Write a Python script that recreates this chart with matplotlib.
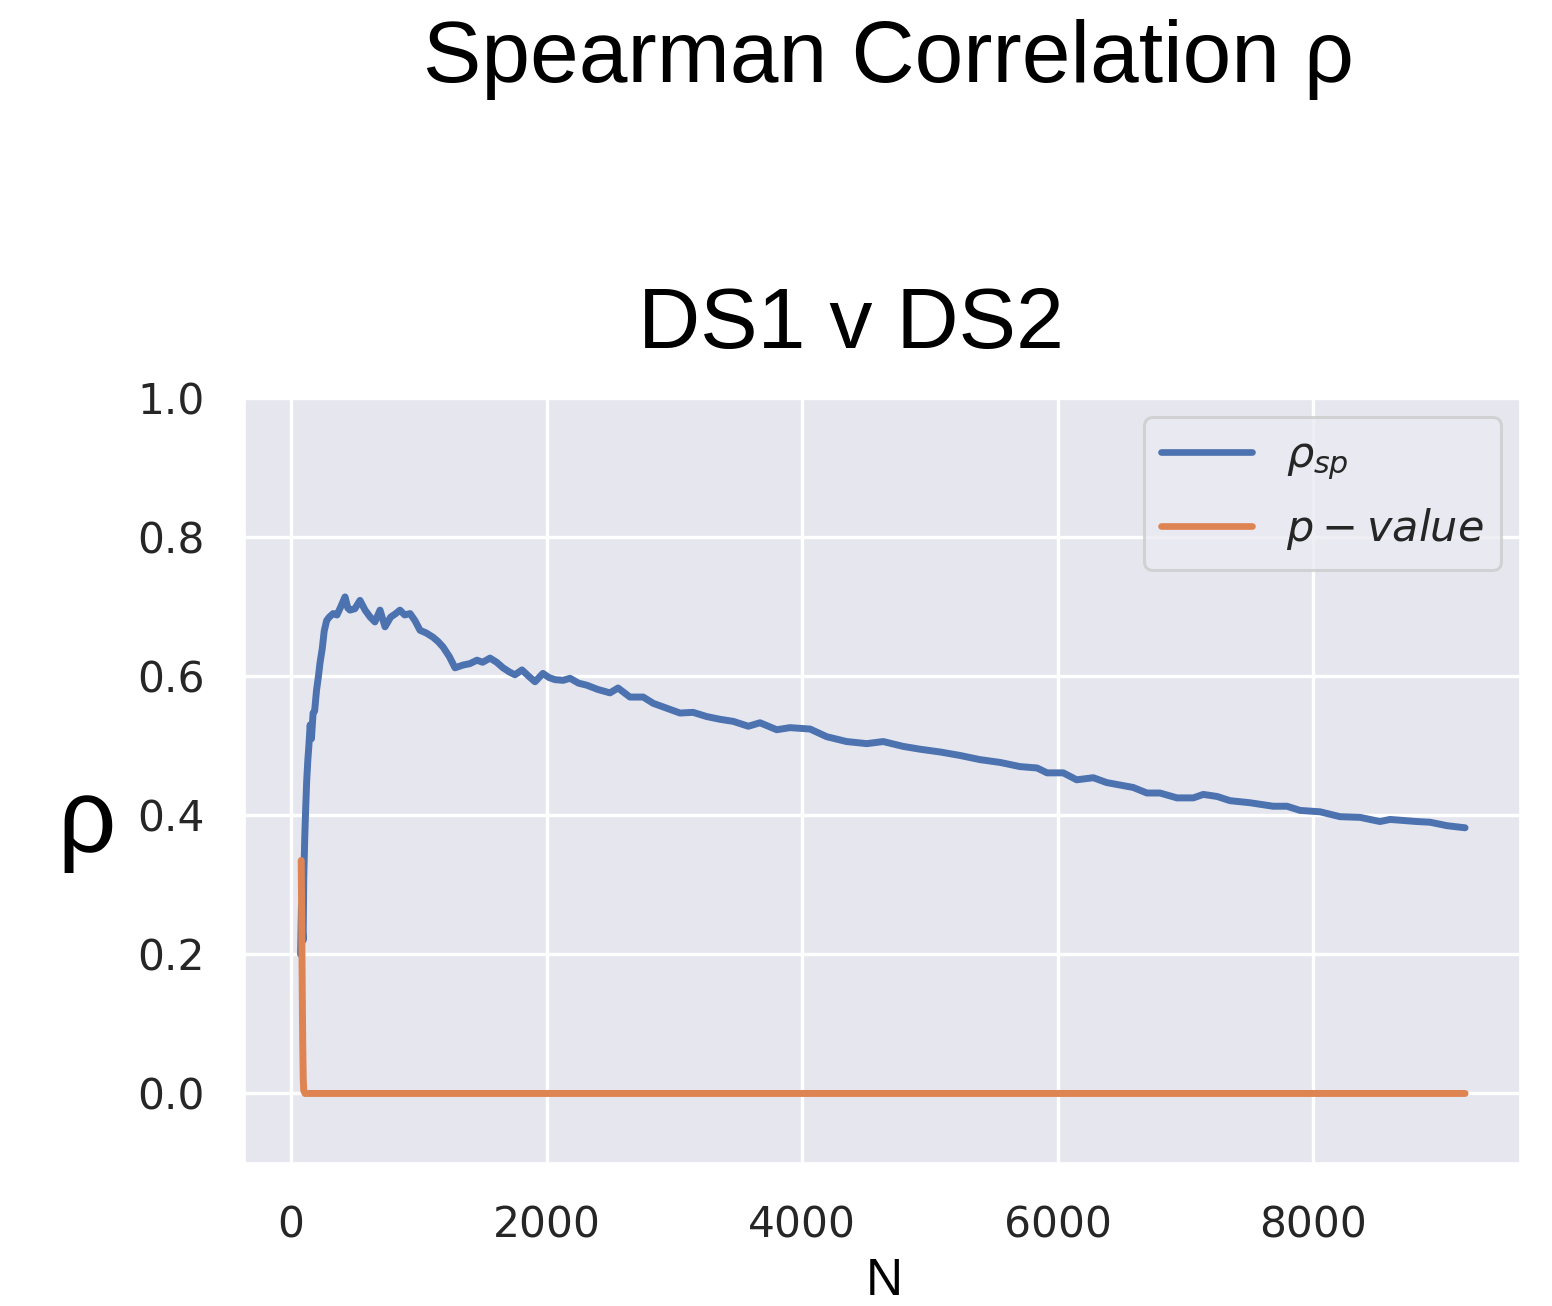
import matplotlib
matplotlib.use("Agg")
import matplotlib.pyplot as plt
import seaborn as sns

# Running Spearman correlation between DS1 and DS2 as the sample size N grows
rho_n = [75, 82, 88, 95, 100, 108, 115, 123, 132, 140, 150, 160, 173, 185, 200,
         215, 227, 245, 260, 279, 300, 330, 360, 390, 423, 445, 462, 500, 540,
         580, 620, 657, 697, 736, 780, 820, 853, 890, 932, 970, 1010, 1060, 1112,
         1150, 1190, 1240, 1284, 1346, 1400, 1456, 1500, 1558, 1610, 1660, 1710,
         1753, 1808, 1860, 1910, 1972, 2020, 2067, 2130, 2184, 2250, 2316, 2400,
         2497, 2560, 2653, 2757, 2835, 2940, 3045, 3147, 3253, 3358, 3462, 3580,
         3671, 3802, 3906, 4063, 4193, 4349, 4507, 4636, 4793, 4924, 5081, 5237,
         5393, 5550, 5706, 5840, 5918, 6045, 6150, 6280, 6385, 6592, 6700, 6802,
         6935, 7063, 7141, 7250, 7350, 7507, 7687, 7796, 7898, 8055, 8211, 8368,
         8524, 8603, 8813, 8916, 9049, 9190]
rho_sp = [0.20, 0.27, 0.24, 0.22, 0.31, 0.37, 0.41, 0.45, 0.48, 0.50, 0.53, 0.51,
          0.547, 0.55, 0.58, 0.60, 0.619, 0.64, 0.665, 0.680, 0.685, 0.690, 0.688,
          0.700, 0.714, 0.698, 0.695, 0.697, 0.709, 0.695, 0.685, 0.678, 0.695,
          0.671, 0.685, 0.690, 0.695, 0.688, 0.690, 0.680, 0.666, 0.662, 0.656,
          0.650, 0.642, 0.628, 0.612, 0.616, 0.618, 0.623, 0.620, 0.626, 0.620,
          0.612, 0.606, 0.602, 0.609, 0.600, 0.592, 0.604, 0.598, 0.595, 0.594,
          0.597, 0.590, 0.587, 0.581, 0.576, 0.583, 0.570, 0.570, 0.561, 0.554,
          0.547, 0.548, 0.542, 0.538, 0.535, 0.528, 0.533, 0.523, 0.526, 0.524,
          0.513, 0.506, 0.503, 0.506, 0.499, 0.495, 0.491, 0.486, 0.480, 0.476,
          0.470, 0.468, 0.461, 0.461, 0.451, 0.454, 0.447, 0.440, 0.432, 0.432,
          0.425, 0.425, 0.430, 0.427, 0.421, 0.418, 0.413, 0.413, 0.407, 0.405,
          0.398, 0.397, 0.391, 0.394, 0.391, 0.390, 0.385, 0.382]

# p-value of the same test
p_n = [80, 84, 88, 92, 96, 100, 110, 9190]
p_value = [0.335, 0.25, 0.15, 0.07, 0.02, 0.004, 0.0, 0.0]

x_ticks = [0, 2000, 4000, 6000, 8000]
y_ticks = [0.0, 0.2, 0.4, 0.6, 0.8, 1.0]

sns.set_theme(style="darkgrid")
plt.rcParams["font.family"] = ["DejaVu Sans"]

fig = plt.figure(figsize=(15.52, 13.06), dpi=100)
ax = fig.add_axes([245 / 1552, 1 - 1163 / 1306, (1520 - 245) / 1552, (1163 - 398) / 1306])
ax.set_facecolor("#E6E6EF")

ax.plot(rho_n, rho_sp, color="#4C72B0", lw=5, label=r"$\rho_{sp}$")
ax.plot(p_n, p_value, color="#DD8452", lw=5, label=r"$p-value$")

ax.set_xlim(-360, 9620)
ax.set_ylim(-0.1, 1.0)
ax.set_xticks(x_ticks)
ax.set_yticks(y_ticks)
ax.set_yticklabels([f"{v:.1f}" for v in y_ticks])
ax.tick_params(axis="both", labelsize=30.5, colors="#262626")
ax.tick_params(axis="x", pad=24)
ax.tick_params(axis="y", pad=23)
ax.grid(True, color="white", lw=2.4)

leg = ax.legend(loc="upper right", fontsize=31, handlelength=2.1,
                borderpad=0.4, labelspacing=0.56, handletextpad=0.8,
                borderaxespad=0, bbox_to_anchor=(0.9851, 0.975))
for h in leg.get_lines():
    h.set_linewidth(4.8)
leg.get_frame().set_edgecolor("#cccccc")
leg.get_frame().set_linewidth(2.2)

sans = ["Liberation Sans", "DejaVu Sans"]
fig.text(888 / 1552, 1 - 82 / 1306, "Spearman Correlation ρ", ha="center",
         va="baseline", fontsize=63, family=sans, color="black")
fig.text(851 / 1552, 1 - 348 / 1306, "DS1 v DS2", ha="center",
         va="baseline", fontsize=62, family=sans, color="black")
fig.text(87 / 1552, 1 - 851 / 1306, "ρ", ha="center", va="baseline",
         fontsize=74, family=sans, color="black")
fig.text(884 / 1552, 1 - 1295 / 1306, "N", ha="center", va="baseline",
         fontsize=37, family=sans, color="black")

fig.savefig("out.png", dpi=100, facecolor="white")
